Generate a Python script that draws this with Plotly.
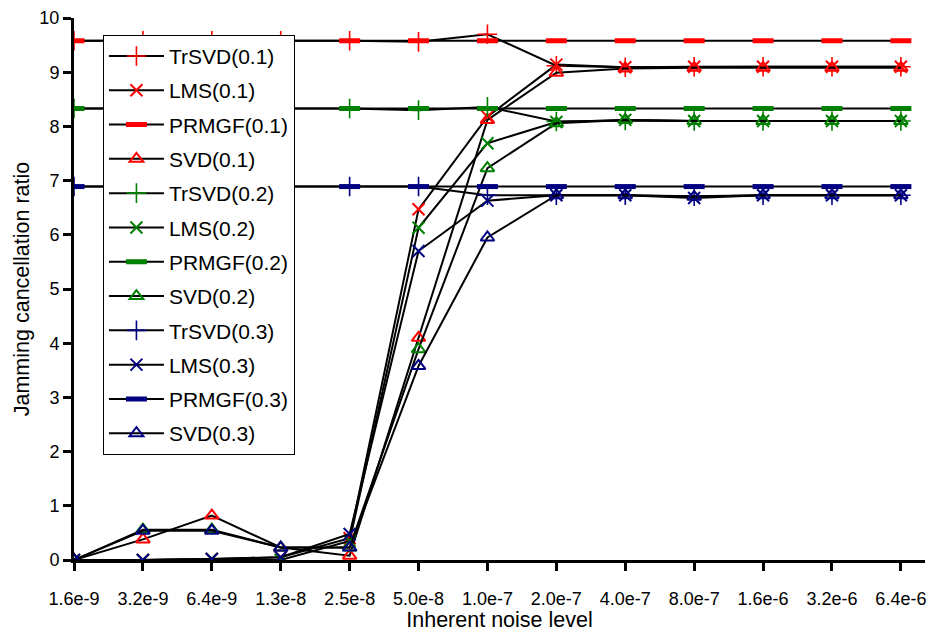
import plotly.graph_objects as go

x_labels = ["1.6e-9", "3.2e-9", "6.4e-9", "1.3e-8", "2.5e-8", "5.0e-8", "1.0e-7",
            "2.0e-7", "4.0e-7", "8.0e-7", "1.6e-6", "3.2e-6", "6.4e-6"]

trsvd_01 = [9.58, 9.58, 9.58, 9.58, 9.58, 9.56, 9.70, 9.12, 9.09, 9.10, 9.10, 9.10, 9.10]
lms_01   = [0.00, 0.00, 0.02, 0.05, 0.40, 6.47, 8.18, 9.14, 9.09, 9.10, 9.10, 9.10, 9.10]
prmgf_01 = [9.58] * 13
svd_01   = [0.00, 0.38, 0.82, 0.23, 0.08, 4.10, 8.12, 8.99, 9.07, 9.08, 9.08, 9.08, 9.08]

trsvd_02 = [8.33, 8.33, 8.33, 8.33, 8.33, 8.30, 8.36, 8.09, 8.11, 8.10, 8.10, 8.10, 8.10]
lms_02   = [0.00, 0.00, 0.02, 0.00, 0.35, 6.13, 7.69, 8.08, 8.12, 8.10, 8.10, 8.10, 8.10]
prmgf_02 = [8.33] * 13
svd_02   = [0.00, 0.56, 0.56, 0.23, 0.23, 3.89, 7.23, 8.06, 8.12, 8.10, 8.10, 8.10, 8.10]

trsvd_03 = [6.89, 6.89, 6.89, 6.89, 6.89, 6.89, 6.73, 6.73, 6.73, 6.71, 6.73, 6.73, 6.73]
lms_03   = [0.00, 0.00, 0.02, 0.05, 0.48, 5.70, 6.63, 6.73, 6.73, 6.68, 6.73, 6.73, 6.73]
prmgf_03 = [6.89] * 13
svd_03   = [0.00, 0.54, 0.54, 0.23, 0.23, 3.58, 5.95, 6.73, 6.73, 6.70, 6.73, 6.73, 6.73]

RED, GREEN, NAVY = "#FF0000", "#008000", "#000080"

series = [
    ("TrSVD(0.1)", trsvd_01, RED, "trsvd"),
    ("LMS(0.1)", lms_01, RED, "lms"),
    ("PRMGF(0.1)", prmgf_01, RED, "prmgf"),
    ("SVD(0.1)", svd_01, RED, "svd"),
    ("TrSVD(0.2)", trsvd_02, GREEN, "trsvd"),
    ("LMS(0.2)", lms_02, GREEN, "lms"),
    ("PRMGF(0.2)", prmgf_02, GREEN, "prmgf"),
    ("SVD(0.2)", svd_02, GREEN, "svd"),
    ("TrSVD(0.3)", trsvd_03, NAVY, "trsvd"),
    ("LMS(0.3)", lms_03, NAVY, "lms"),
    ("PRMGF(0.3)", prmgf_03, NAVY, "prmgf"),
    ("SVD(0.3)", svd_03, NAVY, "svd"),
]

def marker_for(kind, color):
    if kind == "trsvd":
        return dict(symbol="cross-thin", size=14, color=color, line=dict(color=color, width=1.6))
    if kind == "lms":
        return dict(symbol="x-thin", size=12, color=color, line=dict(color=color, width=2))
    if kind == "prmgf":
        return dict(symbol="line-ew", size=15, color=color, line=dict(color=color, width=5))
    return dict(symbol="triangle-up-open", size=12, color=color, line=dict(color=color, width=2))

xi = list(range(len(x_labels)))
fig = go.Figure()
for name, vals, color, kind in series:
    fig.add_trace(go.Scatter(
        x=xi, y=vals, name=name, mode="lines+markers", legendgroup=name,
        line=dict(color="black", width=2),
        marker=marker_for(kind, color),
    ))

fig.update_layout(
    width=927, height=632,
    margin=dict(l=74, r=2, t=18, b=72),
    paper_bgcolor="white", plot_bgcolor="white",
    font=dict(family="Liberation Sans, Arial, sans-serif", color="black", size=18),
    legend=dict(
        x=0.034, y=0.969, xanchor="left", yanchor="top",
        bgcolor="white", bordercolor="black", borderwidth=1,
        font=dict(size=21, family="Liberation Sans, Arial, sans-serif"),
        traceorder="grouped", tracegroupgap=4, itemwidth=55,
    ),
    showlegend=True,
)
fig.update_xaxes(
    range=[0, 12.35], tickmode="array", tickvals=xi, ticktext=x_labels,
    showline=True, linecolor="black", linewidth=3,
    ticks="outside", ticklen=8, tickwidth=3, tickcolor="black",
    showgrid=False, zeroline=False,
    ticklabelstandoff=12,
    tickfont=dict(size=18),
    title=dict(text="Inherent noise level", font=dict(size=21.5), standoff=2),
)
fig.update_yaxes(
    range=[0, 10], tickmode="linear", tick0=0, dtick=1,
    showline=True, linecolor="black", linewidth=3,
    ticks="outside", ticklen=8, tickwidth=3, tickcolor="black",
    showgrid=False, zeroline=False,
    tickfont=dict(size=18),
    title=dict(text="Jamming cancellation ratio", font=dict(size=21.5), standoff=4),
)

fig.write_html("out.html")
